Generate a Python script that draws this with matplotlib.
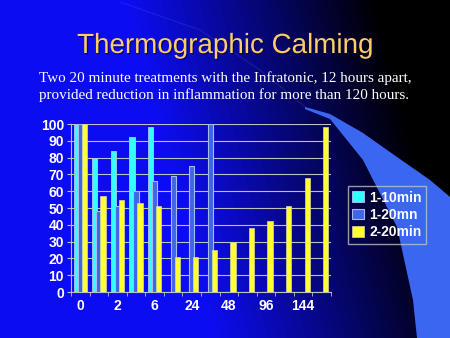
import numpy as np
import matplotlib
matplotlib.use('Agg')
import matplotlib.pyplot as plt
import matplotlib.patheffects as pe
from matplotlib.patches import Polygon

# chart values
tick_labels = ['0', '', '2', '', '6', '', '24', '', '48', '', '96', '', '144', '']
s_1_10min = [100, 80, 84, 92, 98, 0, 0, 0, 0, 0, 0, 0, 0, 0]
s_1_20mn = [100, 48, 51, 60, 66, 69, 75, 100, 0, 0, 0, 0, 0, 0]
s_2_20min = [100, 57, 55, 53, 51, 21, 21, 25, 30, 38, 42, 51, 68, 98]
series_names = ['1-10min', '1-20mn', '2-20min']

W, H = 450, 338
fig = plt.figure(figsize=(4.5, 3.38), dpi=100)

# slide background: blue -> black gradient with light swoosh
bg = fig.add_axes([0, 0, 1, 1])
xx, yy = np.meshgrid(np.linspace(0, W, 225), np.linspace(0, H, 169))
t = np.clip((xx - 170) / 250 + (0.5 - yy / H) * 0.35, 0, 1)
blue = np.array([0.05, 0.05, 0.95])
img = (1 - t)[..., None] * blue[None, None, :]
bg.imshow(img, extent=[0, W, H, 0], aspect='auto', interpolation='bilinear')
upper = [(305, 107), (330, 114), (363, 133), (397, 157), (430, 180), (450, 197)]
lower = [(305, 109), (330, 119), (363, 160), (397, 227), (413, 300), (417, 338)]
swoosh = Polygon(upper + [(450, 338)] + lower[::-1], closed=True,
                 facecolor='#3a66f0', edgecolor='none')
bg.add_patch(swoosh)
bg.plot([120, 200, 260, 305], [2, 30, 70, 107], color='#6080ff', lw=0.8, alpha=0.18)
bg.set_xlim(0, W)
bg.set_ylim(H, 0)
bg.axis('off')

fig.text(225 / W, 1 - 53 / H, 'Thermographic Calming', ha='center', va='baseline',
         fontsize=20, family='Liberation Sans', color='#ffcc66',
         path_effects=[pe.withSimplePatchShadow(offset=(1, -1), shadow_rgbFace='#000040', alpha=0.6)])
fig.text(39 / W, 1 - 82 / H,
         'Two 20 minute treatments with the Infratonic, 12 hours apart,',
         ha='left', va='baseline', fontsize=10.9, family='Liberation Serif', color='white')
fig.text(39 / W, 1 - 99 / H,
         'provided reduction in inflammation for more than 120 hours.',
         ha='left', va='baseline', fontsize=10.9, family='Liberation Serif', color='white')

ax = fig.add_axes([71 / W, 1 - 292 / H, 260 / W, 168 / H])
ax.patch.set_alpha(0)
x = np.arange(len(tick_labels))
bw = 0.28
ax.bar(x - 0.22, s_1_10min, bw, color='#33ffff', edgecolor='#b0c8e8', lw=0.6,
       label=series_names[0], zorder=3)
ax.bar(x, s_1_20mn, bw, color='#4066e8', edgecolor='#a8b8f0', lw=0.8,
       label=series_names[1], zorder=4)
ax.bar(x + 0.22, s_2_20min, bw, color='#ffff33', edgecolor='#d8d8a0', lw=0.5,
       label=series_names[2], zorder=5)

ax.set_xlim(-0.5, len(tick_labels) - 0.5)
ax.set_ylim(0, 100)
ax.set_yticks(range(0, 101, 10))
ax.yaxis.grid(True, color='#c0c0c0', lw=0.8, zorder=1)
ax.set_axisbelow(True)
ax.set_xticks(x)
ax.set_xticklabels(tick_labels)
ax.set_xticks(np.arange(-0.5, len(tick_labels)), minor=True)
ax.tick_params(axis='x', which='major', length=0, pad=5)
ax.tick_params(axis='x', which='minor', length=3, color='#c0c0c0')
ax.tick_params(axis='y', length=3, color='#c0c0c0', pad=2)
for lab in ax.get_xticklabels() + ax.get_yticklabels():
    lab.set_color('white')
    lab.set_fontweight('bold')
    lab.set_fontsize(10)
    lab.set_family('Liberation Sans')
for side in ['top', 'right']:
    ax.spines[side].set_visible(False)
for side in ['left', 'bottom']:
    ax.spines[side].set_color('#c0c0c0')

leg = ax.legend(loc='center', bbox_to_anchor=(347 / W, 1 - 243 / H, 80 / W, 56 / H),
                bbox_transform=fig.transFigure, frameon=True, fancybox=False,
                handlelength=0.8, handleheight=0.8, handletextpad=0.4,
                borderpad=0.3, labelspacing=0.25,
                prop={'family': 'Liberation Sans', 'weight': 'bold', 'size': 10})
leg.get_frame().set_facecolor('none')
leg.get_frame().set_edgecolor('#c0c0c0')
for txt in leg.get_texts():
    txt.set_color('white')

fig.savefig('out.png', dpi=100)
